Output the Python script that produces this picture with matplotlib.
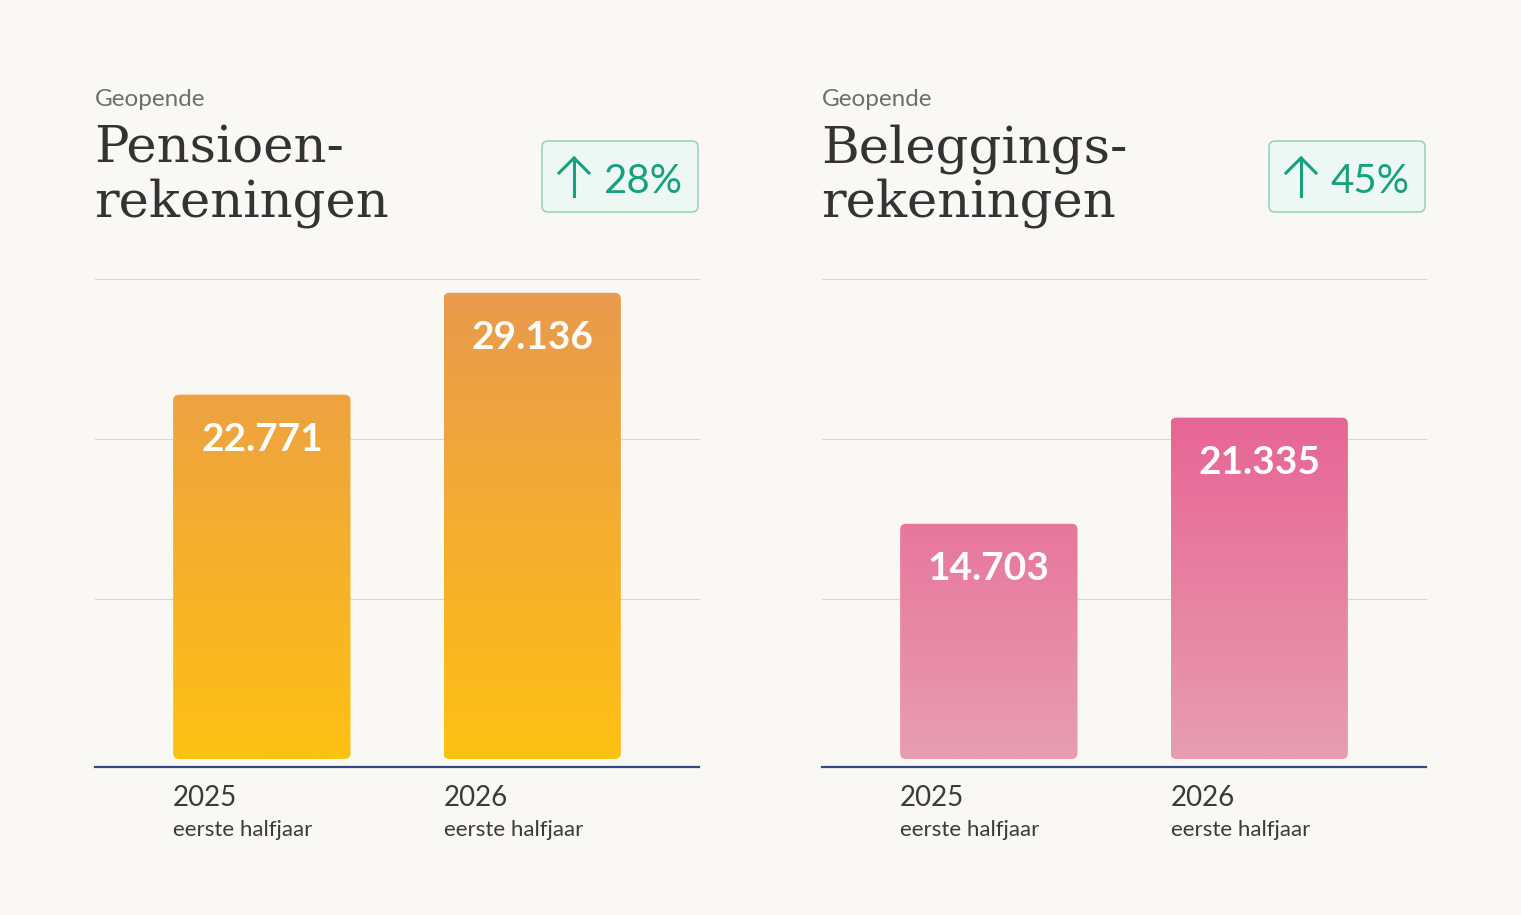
import numpy as np
import matplotlib.pyplot as plt
from matplotlib.colors import LinearSegmentedColormap, Normalize
from matplotlib.patches import FancyBboxPatch
from matplotlib.lines import Line2D

# data
years = ['2025', '2026']
period = 'eerste halfjaar'
pension_values = [22771, 29136]
invest_values = [14703, 21335]
kicker = 'Geopende'
titles = [['Pensioen-', 'rekeningen'], ['Beleggings-', 'rekeningen']]
growth = ['28%', '45%']

# style
BG = '#F9F8F5'
GREEN = '#17A07F'
grad_colors = [('#FEC114', '#E99A4D'), ('#E89DB1', '#E76594')]

W, H = 1521, 915
fig = plt.figure(figsize=(W / 100, H / 100), dpi=100, facecolor=BG)


def fx(px):
    return px / W


def fy(py):
    return 1 - py / H


panel_left = [95, 822]
panel_width = 604
ax_top, ax_bot = 279, 767
YMIN, YMAX = -500, 30000
XMIN, XMAX = -0.617, 1.617
bw = 0.656

for p, values in enumerate([pension_values, invest_values]):
    left = panel_left[p]
    ax = fig.add_axes([fx(left), fy(ax_bot), panel_width / W, (ax_bot - ax_top) / H])
    ax.set_facecolor('none')
    ax.set_xlim(XMIN, XMAX)
    ax.set_ylim(YMIN, YMAX)
    for s in ['top', 'right', 'left']:
        ax.spines[s].set_visible(False)
    ax.spines['bottom'].set_color('#2B4C7E')
    ax.spines['bottom'].set_linewidth(1.6)
    ax.set_xticks([])
    ax.set_yticks([])

    for g in [10000, 20000, 30000]:
        ax.axhline(g, color='#D9D9D6', lw=0.9, zorder=0, clip_on=False)

    px_x = panel_width / (XMAX - XMIN)
    px_y = (ax_bot - ax_top) / (YMAX - YMIN)
    aspect = px_x / px_y
    cmap = LinearSegmentedColormap.from_list('g%d' % p, grad_colors[p])
    norm = Normalize(0, max(values))

    for i, v in enumerate(values):
        x0 = i - bw / 2
        patch = FancyBboxPatch((x0, 0), bw, v,
                               boxstyle='round,pad=0,rounding_size=%f' % (6 / px_x),
                               mutation_aspect=aspect, fc='none', ec='none')
        ax.add_patch(patch)
        grad = np.linspace(0, v, 256).reshape(-1, 1)
        im = ax.imshow(grad, extent=[x0, x0 + bw, 0, v], origin='lower',
                       cmap=cmap, norm=norm, aspect='auto', zorder=2)
        im.set_clip_path(patch)

        ax.annotate(f'{v:,}'.replace(',', '.'), xy=(i, v), xytext=(0, -32),
                    textcoords='offset points', ha='center', va='center',
                    color='white', fontsize=28, fontweight='bold',
                    family='Lato', zorder=3)
        ax.annotate(years[i], xy=(x0, 0), xycoords=('data', 'axes fraction'),
                    xytext=(0, -28), textcoords='offset points', ha='left',
                    va='baseline', fontsize=20, color='#3A3A3A', family='Lato',
                    annotation_clip=False)
        ax.annotate(period, xy=(x0, 0), xycoords=('data', 'axes fraction'),
                    xytext=(0, -49.5), textcoords='offset points', ha='left',
                    va='baseline', fontsize=16, color='#3A3A3A', family='Lato',
                    annotation_clip=False)

    ax.set_xlim(XMIN, XMAX)
    ax.set_ylim(YMIN, YMAX)

    # headings
    fig.text(fx(left), fy(106), kicker, fontsize=17.5, color='#6E6E6E',
             family='Lato', va='baseline', ha='left')
    fig.text(fx(left - 1), fy(163), titles[p][0], fontsize=37, color='#333333',
             family='DejaVu Serif', va='baseline', ha='left')
    fig.text(fx(left - 1), fy(217), titles[p][1], fontsize=37, color='#333333',
             family='DejaVu Serif', va='baseline', ha='left')

    # growth badge
    off = left - panel_left[0]
    badge = FancyBboxPatch((fx(542 + off), fy(212)), 156 / W, 71 / H,
                           boxstyle='round,pad=0,rounding_size=%f' % (6 / W),
                           mutation_aspect=W / H, transform=fig.transFigure,
                           fc='#EDF7F3', ec='#9FD3BF', lw=1.2)
    fig.add_artist(badge)
    ax_x = 574 + off
    fig.add_artist(Line2D([fx(ax_x), fx(ax_x)], [fy(196), fy(158)],
                          transform=fig.transFigure, color=GREEN, lw=2.2))
    fig.add_artist(Line2D([fx(ax_x - 15), fx(ax_x), fx(ax_x + 15)],
                          [fy(173), fy(158), fy(173)],
                          transform=fig.transFigure, color=GREEN, lw=2.2,
                          solid_joinstyle='miter'))
    fig.text(fx(603 + off), fy(193), growth[p], fontsize=29, color=GREEN,
             family='Lato', va='baseline', ha='left')

fig.savefig('out.png', dpi=100, facecolor=BG)
